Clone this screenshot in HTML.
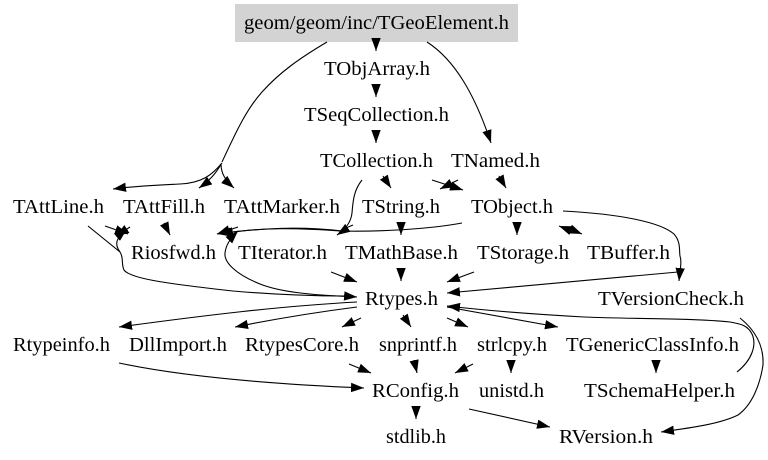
<!DOCTYPE html>
<html>
<head>
<meta charset="utf-8">
<style>
html,body{margin:0;padding:0;background:#fff;}
svg{display:block;filter:blur(0.3px);}
text{font-family:"Liberation Serif",serif;font-size:19.5px;fill:#000;}
path.e{fill:none;stroke:#000;stroke-width:1.1;marker-end:url(#a);}
path.n{fill:none;stroke:#000;stroke-width:1.1;}
</style>
</head>
<body>
<svg width="768" height="460" viewBox="0 0 768 460" xmlns="http://www.w3.org/2000/svg">
<defs>
<marker id="a" markerUnits="userSpaceOnUse" markerWidth="15" markerHeight="11" refX="13" refY="5.5" orient="auto">
<path d="M0,0.8 L13,5.5 L0,10.2 Z" fill="#000"/>
</marker>
</defs>
<rect x="235" y="4" width="283" height="38" fill="#d3d3d3"/>
<text x="244" y="29" textLength="265" lengthAdjust="spacingAndGlyphs">geom/geom/inc/TGeoElement.h</text>
<text x="324" y="75" textLength="106" lengthAdjust="spacingAndGlyphs">TObjArray.h</text>
<text x="304" y="121" textLength="145" lengthAdjust="spacingAndGlyphs">TSeqCollection.h</text>
<text x="320" y="167" textLength="113" lengthAdjust="spacingAndGlyphs">TCollection.h</text>
<text x="451" y="167" textLength="89" lengthAdjust="spacingAndGlyphs">TNamed.h</text>
<text x="13" y="213" textLength="91" lengthAdjust="spacingAndGlyphs">TAttLine.h</text>
<text x="123" y="213" textLength="82" lengthAdjust="spacingAndGlyphs">TAttFill.h</text>
<text x="224" y="213" textLength="116" lengthAdjust="spacingAndGlyphs">TAttMarker.h</text>
<text x="362" y="213" textLength="78" lengthAdjust="spacingAndGlyphs">TString.h</text>
<text x="471" y="213" textLength="82" lengthAdjust="spacingAndGlyphs">TObject.h</text>
<text x="131" y="259" textLength="85" lengthAdjust="spacingAndGlyphs">Riosfwd.h</text>
<text x="238" y="259" textLength="89" lengthAdjust="spacingAndGlyphs">TIterator.h</text>
<text x="345" y="259" textLength="113" lengthAdjust="spacingAndGlyphs">TMathBase.h</text>
<text x="477" y="259" textLength="92" lengthAdjust="spacingAndGlyphs">TStorage.h</text>
<text x="587" y="259" textLength="83" lengthAdjust="spacingAndGlyphs">TBuffer.h</text>
<text x="365" y="305" textLength="73" lengthAdjust="spacingAndGlyphs">Rtypes.h</text>
<text x="598" y="305" textLength="146" lengthAdjust="spacingAndGlyphs">TVersionCheck.h</text>
<text x="13" y="351" textLength="97" lengthAdjust="spacingAndGlyphs">Rtypeinfo.h</text>
<text x="129" y="351" textLength="98" lengthAdjust="spacingAndGlyphs">DllImport.h</text>
<text x="245" y="351" textLength="114" lengthAdjust="spacingAndGlyphs">RtypesCore.h</text>
<text x="379" y="351" textLength="78" lengthAdjust="spacingAndGlyphs">snprintf.h</text>
<text x="477" y="351" textLength="70" lengthAdjust="spacingAndGlyphs">strlcpy.h</text>
<text x="566" y="351" textLength="173" lengthAdjust="spacingAndGlyphs">TGenericClassInfo.h</text>
<text x="372" y="397" textLength="87" lengthAdjust="spacingAndGlyphs">RConfig.h</text>
<text x="479" y="397" textLength="65" lengthAdjust="spacingAndGlyphs">unistd.h</text>
<text x="584" y="397" textLength="151" lengthAdjust="spacingAndGlyphs">TSchemaHelper.h</text>
<text x="386" y="443" textLength="60" lengthAdjust="spacingAndGlyphs">stdlib.h</text>
<text x="559" y="443" textLength="94" lengthAdjust="spacingAndGlyphs">RVersion.h</text>

<!-- vertical chain -->
<path class="e" d="M376,38 L376,51"/>
<path class="e" d="M376,84 L376,97"/>
<path class="e" d="M376,130 L376,143"/>
<path class="e" d="M427,42 C455,60 475,95 491,143"/>
<path class="n" d="M327,42 C300,58 280,72 262,92 C246,110 236,132 222,162"/>
<path class="e" d="M222,163 C212,175 202,183 180,184 C160,185 135,186 113,189"/>
<path class="e" d="M221,164 C216,174 209,181 199,188"/>
<path class="e" d="M221,164 C221,174 226,181 234,188"/>

<!-- row 167 to 213 -->
<path class="e" d="M383,176 L391,188"/>
<path class="e" d="M432,180 L463,190"/>
<path class="e" d="M499,176 L506,188"/>
<path class="e" d="M458,180 L440,189"/>

<!-- row 213 to 259 -->
<path class="e" d="M105,226 L128,234"/>
<path class="e" d="M130,227 L116,236"/>
<path class="e" d="M164,223 L170,235"/>
<path class="e" d="M238,227 L217,234"/>
<path class="e" d="M362,180 C354,190 353,200 352,213 C351,222 346,229 337,235"/>
<path class="n" d="M353,225 L341,230"/>
<path class="e" d="M462,223 C430,229 380,232 340,231 C300,228 260,227 220,234"/>
<path class="e" d="M343,231 C300,226 260,228 218,234"/>
<path class="e" d="M401,222 L401,235"/>
<path class="e" d="M517,222 L517,235"/>
<path class="e" d="M572,231 L559,226"/>
<path class="e" d="M570,229 L582,234"/>
<path class="e" d="M563,211 C620,214 660,222 674,234 C681,242 679,250 680,256 C682,262 680,270 679,281"/>

<!-- into Rtypes -->
<path class="n" d="M88,226 L120,252 C124,258 121,264 124,270 C130,278 160,283 233,291 C280,295 320,296 345,296"/>
<path class="e" d="M120,252 C114,244 116,238 127,229"/>
<path class="e" d="M357,297 C310,295 280,292 260,284 C235,274 224,262 225,253 C226,244 231,238 238,231"/>
<path class="e" d="M345,296 L357,297"/>
<path class="e" d="M331,272 L357,282"/>
<path class="e" d="M401,268 L401,281"/>
<path class="e" d="M474,272 L447,282"/>
<path class="e" d="M678,272 L447,293"/>

<!-- out of Rtypes -->
<path class="e" d="M357,302 C280,306 200,316 119,327"/>
<path class="e" d="M357,307 C310,313 270,320 235,327"/>
<path class="e" d="M361,318 L342,327"/>
<path class="e" d="M403,315 L411,327"/>
<path class="e" d="M447,318 L468,327"/>
<path class="e" d="M447,307 L558,327"/>
<path class="e" d="M737,372 C752,360 757,345 752,334 C748,326 742,324 730,322 C690,318 630,319 584,317 C530,314 490,311 447,306"/>
<path class="e" d="M740,318 C755,330 764,345 763,365 C760,385 752,405 738,415 C720,424 690,428 661,432"/>

<!-- row 351 to 397 -->
<path class="e" d="M119,363 C180,376 270,384 364,388"/>
<path class="e" d="M349,364 L371,373"/>
<path class="e" d="M414,360 L417,373"/>
<path class="e" d="M473,364 L455,373"/>
<path class="e" d="M511,360 L511,373"/>
<path class="e" d="M656,360 L656,373"/>

<!-- last row -->
<path class="e" d="M416,406 L416,419"/>
<path class="e" d="M469,409 L550,427"/>
</svg>
</body>
</html>
